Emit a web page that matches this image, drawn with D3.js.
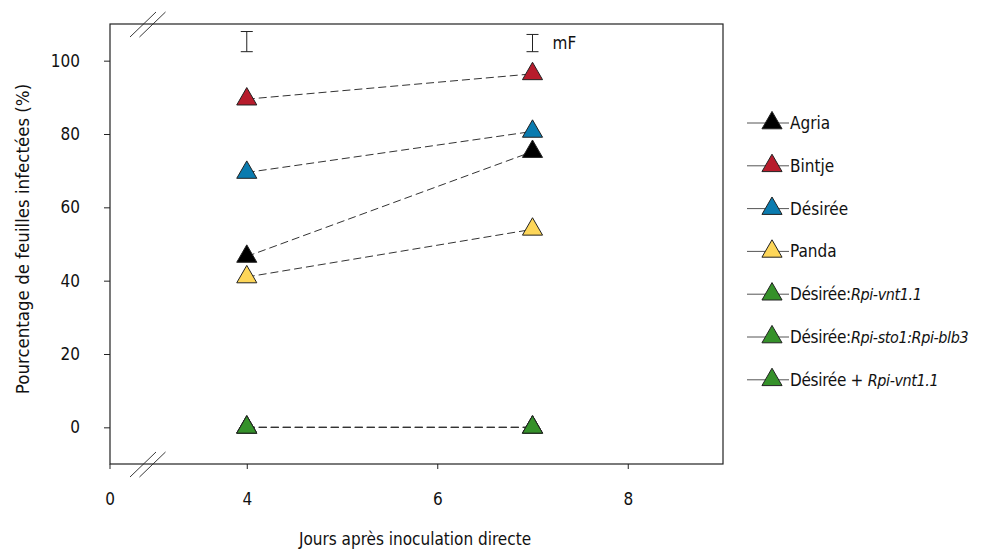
<!DOCTYPE html>
<html>
<head>
<meta charset="utf-8">
<script src="https://cdn.jsdelivr.net/npm/d3@7"></script>
<style>
  body { margin: 0; background: #fff; }
  svg text { font-family: "Liberation Sans Narrow", "DejaVu Sans Condensed", "Open Sans", sans-serif; fill: #111; }
</style>
</head>
<body>
<div id="chart"></div>
<script>
// data
var days = [4, 7];
var names = ['Agria', 'Bintje', 'Désirée', 'Panda', 'Désirée:Rpi-vnt1.1', 'Désirée:Rpi-sto1:Rpi-blb3', 'Désirée + Rpi-vnt1.1'];
var colors = ['#000000', '#b71c2c', '#0a7baf', '#fdd659', '#35912a', '#35912a', '#35912a'];
var agria = [46.6, 75.2];
var bintje = [89.5, 96.4];
var desiree = [69.5, 80.7];
var panda = [41.0, 54.0];
var vnt = [0, 0];
var stoBlb = [0, 0];
var plusVnt = [0, 0];
var errCenter = [105.2, 104.8];
var errHalf = [2.75, 2.35];
var xTicks = [4, 6, 8];
var yTicks = [0, 20, 40, 60, 80, 100];

var values = [agria, bintje, desiree, panda, vnt, stoBlb, plusVnt];

var width = 983, height = 552;
var plotLeft = 110, plotRight = 723, plotTop = 24, plotBottom = 464;

var svg = d3.select('#chart').append('svg')
    .attr('width', width)
    .attr('height', height);

var x = d3.scaleLinear().domain([2.564, 9]).range([plotLeft, plotRight]);
var y = d3.scaleLinear().domain([-10, 110]).range([plotBottom, plotTop]);

// frame
svg.append('rect')
    .attr('x', plotLeft).attr('y', plotTop)
    .attr('width', plotRight - plotLeft).attr('height', plotBottom - plotTop)
    .attr('fill', 'none').attr('stroke', '#222').attr('stroke-width', 1.2);

// axes
var xAxis = svg.append('g')
    .attr('transform', `translate(0,${plotBottom})`)
    .call(d3.axisBottom(x).tickValues(xTicks).tickFormat(d3.format('d'))
        .tickSize(5).tickPadding(24).tickSizeOuter(0));
// the broken axis starts at 0
var zeroTick = xAxis.append('g').attr('transform', `translate(${plotLeft},0)`);
zeroTick.append('line').attr('y2', 5);
zeroTick.append('text').attr('y', 29).attr('dy', '0.71em').attr('text-anchor', 'middle').text('0');

var yAxis = svg.append('g')
    .attr('transform', `translate(${plotLeft},0)`)
    .call(d3.axisLeft(y).tickValues(yTicks).tickFormat(d3.format('d'))
        .tickSize(6).tickPadding(24).tickSizeOuter(0));

[xAxis, yAxis].forEach(function(a) {
    a.select('.domain').remove();
    a.selectAll('line').attr('stroke', '#222');
    a.selectAll('text').style('font-size', '17px').attr('fill', '#111').attr('font-family', null);
});

// axis break marks
[plotTop, plotBottom].forEach(function(yy) {
    [0, 9.5].forEach(function(dx) {
        svg.append('line')
            .attr('x1', 130 + dx).attr('y1', yy + 13)
            .attr('x2', 156 + dx).attr('y2', yy - 12)
            .attr('stroke', '#222').attr('stroke-width', 0.9);
    });
});

// axis titles
svg.append('text')
    .attr('transform', 'translate(29,239) rotate(-90)')
    .attr('text-anchor', 'middle')
    .style('font-size', '18.5px')
    .text('Pourcentage de feuilles infectées (%)');

svg.append('text')
    .attr('x', 415).attr('y', 545)
    .attr('text-anchor', 'middle')
    .style('font-size', '17px')
    .text('Jours après inoculation directe');

// error bars (mF)
var err = svg.append('g').attr('stroke', '#222').attr('stroke-width', 1);
days.forEach(function(d, i) {
    var y0 = y(errCenter[i] - errHalf[i]), y1 = y(errCenter[i] + errHalf[i]);
    err.append('line').attr('x1', x(d)).attr('x2', x(d)).attr('y1', y0).attr('y2', y1);
    err.append('line').attr('x1', x(d) - 6).attr('x2', x(d) + 6).attr('y1', y0).attr('y2', y0);
    err.append('line').attr('x1', x(d) - 6).attr('x2', x(d) + 6).attr('y1', y1).attr('y2', y1);
});
svg.append('text')
    .attr('x', x(days[1]) + 20).attr('y', y(errCenter[1]))
    .attr('dy', '0.35em')
    .style('font-size', '17px')
    .text('mF');

// dashed lines
var line = d3.line().x(function(d, i) { return x(days[i]); }).y(function(d) { return y(d); });
svg.append('g').selectAll('path')
    .data(values).join('path')
    .attr('d', line)
    .attr('fill', 'none')
    .attr('stroke', '#333')
    .attr('stroke-width', 1)
    .attr('stroke-dasharray', '8,4');

// markers
var tri = d3.symbol().type(d3.symbolTriangle).size(175);
values.forEach(function(v, s) {
    svg.append('g').selectAll('path')
        .data(v).join('path')
        .attr('d', tri)
        .attr('transform', function(d, i) { return `translate(${x(days[i])},${y(d)})`; })
        .attr('fill', colors[s])
        .attr('stroke', '#222')
        .attr('stroke-width', 1);
});

// legend
var legend = svg.append('g').attr('transform', 'translate(747,123)');
var rows = legend.selectAll('g').data(names).join('g')
    .attr('transform', function(d, i) { return `translate(0,${i * 42.8})`; });
rows.append('line')
    .attr('x1', 0).attr('x2', 42)
    .attr('stroke', '#555').attr('stroke-width', 1);
rows.append('path')
    .attr('d', tri)
    .attr('transform', 'translate(25,0)')
    .attr('fill', function(d, i) { return colors[i]; })
    .attr('stroke', '#222');
var labels = rows.append('text')
    .attr('x', 43).attr('dy', '0.35em')
    .style('font-size', '17px');
labels.each(function(d) {
    var t = d3.select(this);
    var m = d.match(/^(Désirée(?::| \+ ))(.*)$/);
    if (m) {
        t.append('tspan').style('letter-spacing', '-0.3px').text(m[1]);
        t.append('tspan').style('font-style', 'italic').style('font-size', '16px')
            .style('letter-spacing', '-0.4px').text(m[2]);
    } else {
        t.text(d);
    }
});
</script>
</body>
</html>
